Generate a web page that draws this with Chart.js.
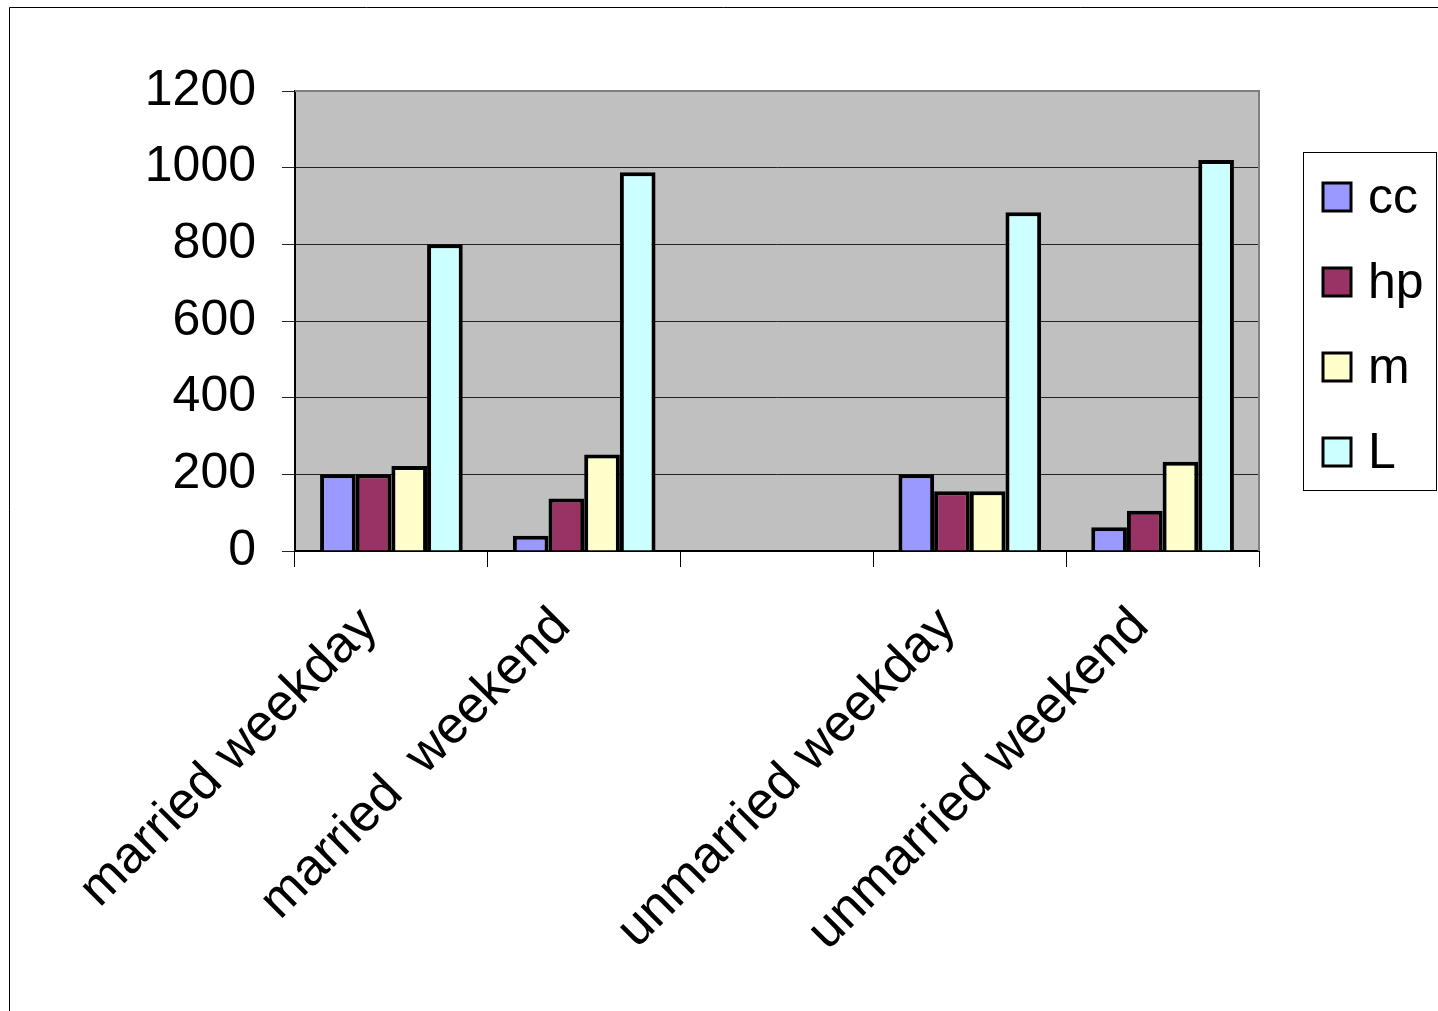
<!DOCTYPE html>
<html>
<head>
<meta charset="utf-8">
<script src="https://cdn.jsdelivr.net/npm/chart.js@4.4.0/dist/chart.umd.min.js"></script>
<style>
    html, body { margin: 0; padding: 0; background: #fff; }
    canvas { display: block; }
</style>
</head>
<body>
<canvas id="chart" width="1438" height="1011"></canvas>
<script>
// Chart data
const categories = ['married weekday', 'married  weekend', '', 'unmarried weekday', 'unmarried weekend'];
const seriesNames = ['cc', 'hp', 'm', 'L'];
const ccValues = [200, 40, null, 200, 62];
const hpValues = [200, 137, null, 156, 105];
const mValues = [222, 252, null, 156, 233];
const lValues = [800, 988, null, 884, 1020];
const yTicks = [0, 200, 400, 600, 800, 1000, 1200];

const seriesColors = ['#9999FF', '#993366', '#FFFFCC', '#CCFFFF'];
const FONT = "'Liberation Sans', Arial, sans-serif";

// Grey plot area with the Excel-like frame
const plotBackground = {
    id: 'plotBackground',
    beforeDraw(chart) {
        const { ctx, chartArea: a } = chart;
        ctx.save();
        ctx.fillStyle = '#fff';
        ctx.fillRect(0, 0, chart.width, chart.height);
        // outer frame (only top and left visible)
        ctx.strokeStyle = '#000';
        ctx.lineWidth = 1;
        ctx.beginPath();
        ctx.moveTo(9.5, chart.height);
        ctx.lineTo(9.5, 7.5);
        ctx.lineTo(chart.width, 7.5);
        ctx.stroke();
        ctx.fillStyle = '#C0C0C0';
        ctx.fillRect(a.left, a.top, a.right - a.left, a.bottom - a.top);
        ctx.restore();
    },
    beforeDatasetsDraw(chart) {
        const { ctx, chartArea: a } = chart;
        ctx.save();
        ctx.strokeStyle = '#808080';
        ctx.lineWidth = 2;
        ctx.beginPath();
        ctx.moveTo(a.left, a.top);
        ctx.lineTo(a.right, a.top);
        ctx.lineTo(a.right, a.bottom);
        ctx.stroke();
        ctx.restore();
    }
};

// Boxed legend on the right
const boxLegend = {
    id: 'boxLegend',
    afterDraw(chart) {
        const { ctx } = chart;
        ctx.save();
        ctx.strokeStyle = '#000';
        ctx.lineWidth = 1;
        ctx.strokeRect(1303.5, 152.5, 133, 338);
        ctx.font = '50px ' + FONT;
        ctx.textBaseline = 'middle';
        ctx.textAlign = 'left';
        chart.data.datasets.forEach((ds, i) => {
            const cy = 197 + i * 85;
            ctx.fillStyle = ds.backgroundColor;
            ctx.fillRect(1323, cy - 14, 28, 28);
            ctx.lineWidth = 3;
            ctx.strokeRect(1323, cy - 14, 28, 28);
            ctx.fillStyle = '#000';
            ctx.fillText(ds.label, 1368, cy + 2);
        });
        ctx.restore();
    }
};

const seriesValues = [ccValues, hpValues, mValues, lValues];

new Chart(document.getElementById('chart'), {
    type: 'bar',
    data: {
        labels: categories,
        datasets: seriesNames.map((name, i) => ({
            label: name,
            data: seriesValues[i],
            backgroundColor: seriesColors[i],
            borderColor: '#000',
            borderWidth: 4,
            categoryPercentage: 0.74,
            barPercentage: 1.0
        }))
    },
    options: {
        responsive: false,
        animation: false,
        devicePixelRatio: 1,
        layout: {
            padding: { left: 0, top: 91, right: 179, bottom: 0 }
        },
        plugins: {
            legend: { display: false },
            tooltip: { enabled: false }
        },
        scales: {
            x: {
                grid: {
                    offset: true,
                    drawOnChartArea: false,
                    drawTicks: true,
                    tickLength: 16,
                    color: '#000',
                    lineWidth: 1
                },
                border: { color: '#000', width: 2 },
                ticks: {
                    color: '#000',
                    font: { family: FONT, size: 52 },
                    minRotation: 45,
                    maxRotation: 45,
                    autoSkip: false,
                    padding: 29,
                    labelOffset: -22
                },
                afterFit(scale) {
                    scale.height = 460;
                }
            },
            y: {
                min: 0,
                max: 1200,
                afterBuildTicks(scale) {
                    scale.ticks = yTicks.map(v => ({ value: v }));
                },
                grid: {
                    color: '#222',
                    lineWidth: 1,
                    tickLength: 13
                },
                border: { color: '#000', width: 2 },
                ticks: {
                    color: '#000',
                    font: { family: FONT, size: 50 },
                    padding: 26,
                    callback: (value) => String(value)
                },
                afterFit(scale) {
                    scale.width = 295;
                }
            }
        }
    },
    plugins: [plotBackground, boxLegend]
});
</script>
</body>
</html>
